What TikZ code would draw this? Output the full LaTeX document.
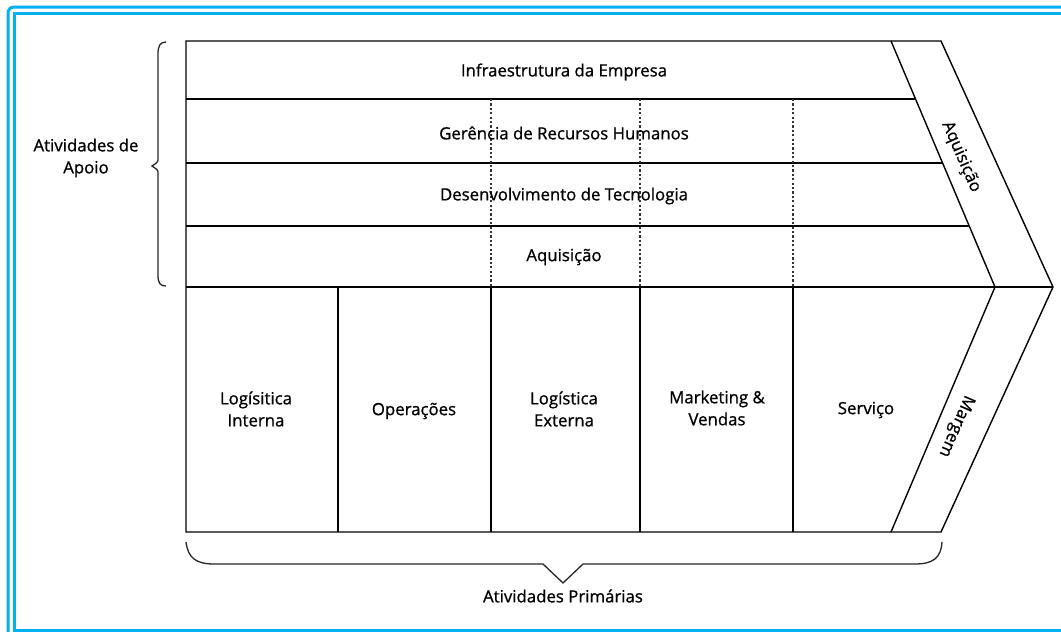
\documentclass[tikz,border=0pt]{standalone}
\usepackage{fontspec}
\setmainfont{Open Sans}[BoldFont=Open Sans, BoldFeatures={FakeBold=0.9}]
\definecolor{framecyan}{RGB}{0,176,240}
\tikzset{
  boxline/.style={line width=1.4pt, black},
  sepdots/.style={line width=1.4pt, dash pattern=on 2.2pt off 2.2pt, black!80},
  lbl/.style={font=\fontsize{16.8}{22}\selectfont\bfseries, align=center, inner sep=0pt},
  bracepath/.style={line width=1.3pt, black!85, rounded corners=0pt},
  frameline/.style={line width=3pt, framecyan}
}
\begin{document}
\begin{tikzpicture}[x=1pt,y=-1pt]
\useasboundingbox (0,0) rectangle (1061,632);
% blue frame
\draw[frameline, rounded corners=6pt] (8,1000) -- (8,7) -- (1100,7);
\draw[frameline] (14,1000) -- (14,13) -- (1100,13);
\draw[frameline] (14,630.5) -- (1100,630.5);
% main grid
\draw[boxline] (186,41) -- (891,41) -- (995,287) -- (891,532) -- (186,532) -- cycle;
\draw[boxline] (891,41) -- (941,41) -- (1053,287) -- (941,532) -- (891,532);
\draw[boxline] (186,99) -- (915.5,99);
\draw[boxline] (186,163) -- (942.5,163);
\draw[boxline] (186,226) -- (969,226);
\draw[boxline] (186,287) -- (995,287) -- (1053,287);
% primary separators
\foreach \xx in {338,491,640,793} \draw[boxline] (\xx,287) -- (\xx,532);
% dotted separators in support rows
\foreach \xx in {491,640,793} \draw[sepdots] (\xx,99) -- (\xx,287);
% texts
\node[lbl] (infra) at (564,72) {Infraestrutura da Empresa};
\node[lbl] (rh) at (564,133) {Gerência de Recursos Humanos};
\node[lbl] (tec) at (564,196) {Desenvolvimento de Tecnologia};
\node[lbl] (aq) at (564,257) {Aquisição};
\node[lbl] (li) at (256,409) {Logísitica\\Interna};
\node[lbl] (op) at (414,411) {Operações};
\node[lbl] (le) at (564,409) {Logística\\Externa};
\node[lbl] (mv) at (717,408) {Marketing \&\\Vendas};
\node[lbl] (sv) at (866,410) {Serviço};
\node[lbl, rotate=-66.5] (aqr) at (961,157) {Aquisição};
\node[lbl, rotate=-113.5] (mg) at (956,426) {Margem};
\node[lbl] (apoio) at (86,158) {Atividades de\\Apoio};
\node[lbl] (prim) at (563,596) {Atividades Primárias};
% left brace
\draw[bracepath] (166,42) .. controls (160,42) and (158,46) .. (158,54) -- (158,158) .. controls (158,162) .. (152,166) .. controls (158,170) .. (158,174) -- (158,275) .. controls (158,283) and (160,286) .. (166,286);
% bottom brace
\draw[bracepath] (186,542) .. controls (188,558) and (196,564) .. (214,564) -- (543,564) -- (563,583) -- (583,564) -- (915,564) .. controls (933,564) and (941,558) .. (942,542);
\end{tikzpicture}
\end{document}
